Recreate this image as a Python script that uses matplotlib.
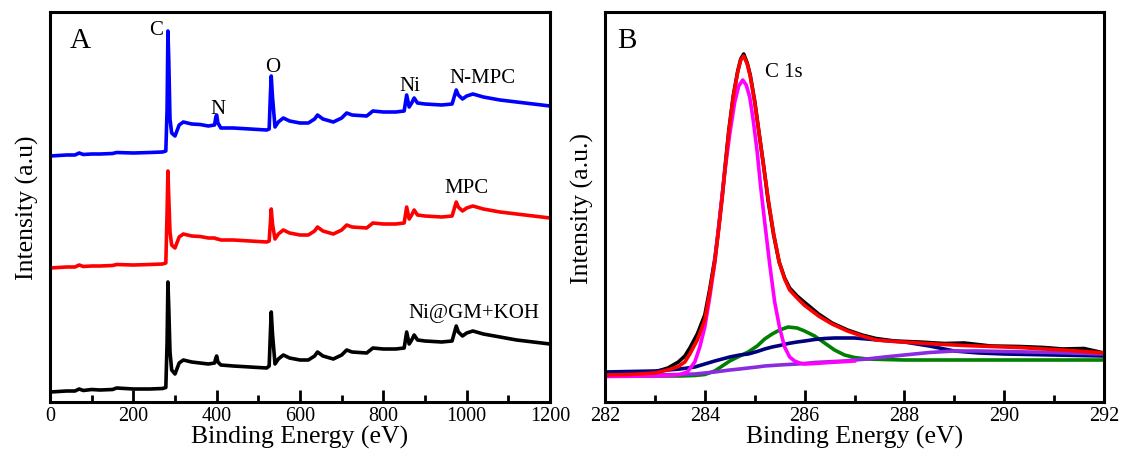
import numpy as np
import matplotlib
matplotlib.use("Agg")
import matplotlib.pyplot as plt
from matplotlib.ticker import MultipleLocator

plt.rcParams['font.family'] = ['Liberation Serif', 'DejaVu Serif']

# ---- XPS survey spectra (binding energy, intensity in a.u.) ----
E_survey = [0, 20, 40, 60, 70, 80, 100, 120, 150, 160, 200, 240, 270, 278, 281, 283, 285,
            288, 292, 300, 310, 320, 340, 360, 380, 395, 398, 400, 403, 410, 440, 480, 520,
            526, 529, 531, 534, 540, 548, 560, 575, 600, 620, 635, 642, 655, 680, 700, 712,
            725, 760, 775, 800, 830, 850, 856, 862, 868, 874, 882, 900, 940, 965, 975, 980,
            990, 1000, 1015, 1040, 1080, 1120, 1160, 1200]

nmpc = [246, 246.5, 247, 247, 249, 247.5, 248, 248, 248.5, 249.5, 249, 249.5, 250, 251, 293,
        371, 343, 283, 269, 266, 277, 280, 278, 277.5, 276, 277, 285, 287, 279, 274, 274,
        273, 272, 273, 308, 326, 305, 275, 280, 284, 281, 279, 279, 283, 287, 283, 280, 284,
        289, 287, 286, 291, 290, 290, 291, 307, 295, 299, 304, 299, 298, 297, 298, 312, 307,
        303, 306, 308, 305, 302, 300, 298, 296]

mpc = [134, 134.5, 135, 135, 137, 135.5, 136, 136, 136.5, 137.5, 137, 137.5, 138, 139, 190,
       231, 205, 170, 157, 154, 165, 168, 166, 165.5, 164, 164, 163.5, 163, 163, 162, 162,
       161, 160, 161, 180, 193, 178, 163, 168, 172, 169, 167, 167, 171, 175, 171, 168, 172,
       177, 175, 174, 179, 178, 178, 179, 195, 183, 187, 192, 187, 186, 185, 186, 200, 195,
       191, 194, 196, 193, 190, 188, 186, 184]

ni_gm_koh = [10, 10.5, 11, 11, 13, 11.5, 12.5, 12, 12.5, 14, 13, 13, 13.5, 14.5, 60, 120,
             95, 50, 32, 28, 39, 42, 40, 39, 38, 39, 44, 46, 40, 37, 36, 35, 34, 36, 70, 90,
             68, 38, 43, 47, 44, 42, 42, 46, 50, 46, 43, 47, 52, 50, 49, 54, 53, 53, 54, 70,
             58, 62, 67, 62, 61, 60, 61, 76, 70, 66, 69, 71, 68, 65, 62, 60, 58]

# ---- C 1s high resolution spectrum and fitted components ----
E_raw = [282.0, 282.5, 283.0, 283.26, 283.47, 283.6, 283.7, 283.85, 284.0, 284.1, 284.2,
         284.27, 284.35, 284.42, 284.48, 284.57, 284.66, 284.72, 284.78, 284.85, 284.91,
         285.0, 285.09, 285.18, 285.27, 285.38, 285.49, 285.6, 285.7, 285.85, 285.99,
         286.28, 286.55, 286.86, 287.15, 287.43, 287.8, 288.29, 288.8, 289.2, 289.73,
         290.3, 290.8, 291.17, 291.6, 292.0]
c1s_raw = [27, 28, 30, 34, 40, 46, 54, 68, 87, 113, 143, 171, 207, 242, 271, 306, 331, 343,
           348, 339, 327, 301, 268, 236, 201, 167, 140, 124, 114, 106, 100, 88, 79, 72, 67,
           63.5, 61, 60, 58.5, 59, 56, 55.5, 54.5, 53, 53.5, 49]
c1s_fit = [27, 27.5, 29, 32, 35.5, 40, 48, 62, 82, 110, 140, 169, 205, 240, 270, 305, 330,
           342, 346, 338, 326, 300, 268, 235, 203, 168, 140, 123, 112, 104, 97, 86, 78, 71,
           66, 62, 60.5, 59, 57.5, 56.5, 55.5, 54.5, 53, 52, 50.5, 49]

E_sp2 = [282.0, 283.0, 283.3, 283.5, 283.65, 283.8, 283.9, 284.0, 284.1, 284.2, 284.3, 284.4,
         284.5, 284.6, 284.68, 284.76, 284.83, 284.9, 284.97, 285.05, 285.12, 285.2, 285.3,
         285.4, 285.5, 285.6, 285.7, 285.8, 285.9, 286.0, 286.2, 286.5, 287.0]
c_sp2 = [25.5, 26, 26.5, 27.5, 30, 40, 55, 75, 105, 140, 185, 230, 268, 300, 316, 322, 317,
         305, 282, 250, 215, 180, 138, 100, 74, 55, 45, 41, 39, 38, 38.5, 39.5, 41]

E_comp = [282.0, 283.0, 283.5, 283.8, 284.0, 284.2, 284.35, 284.5, 284.7, 284.87, 285.05,
          285.2, 285.35, 285.5, 285.67, 285.85, 286.0, 286.2, 286.4, 286.6, 286.8, 287.0,
          287.25, 287.6, 288.0, 288.5, 289.0, 289.5, 290.0, 291.0, 292.0]
c_green = [26, 26, 26, 26.5, 27.5, 31, 36, 41, 46, 50, 56, 63, 68, 72, 75, 74, 71, 66, 59,
           52, 47, 44.5, 43, 42.5, 42, 42, 42, 42, 42, 42, 42]
c_navy = [30, 31, 33, 35, 38, 41, 43, 45, 47, 48, 50.5, 53, 55, 56.5, 58.5, 60, 61, 62.5,
          63.5, 64, 64, 64, 63, 61.5, 60, 56, 51, 49, 48, 47, 46]
c_base = [27, 27, 27.5, 28, 29, 30, 31, 32, 33, 34, 35, 36, 36.5, 37, 37.5, 38, 38.5, 39.5,
          40, 40.5, 41, 42, 43, 45, 47, 49.5, 51, 51, 50.5, 49.5, 48]

fig = plt.figure(figsize=(11.23, 4.56), dpi=100)
axA = fig.add_axes([50 / 1123, 53 / 456, 500 / 1123, 390 / 456])
axB = fig.add_axes([605 / 1123, 53 / 456, 499 / 1123, 390 / 456])

lw = 2.6
axA.plot(E_survey, ni_gm_koh, color='black', lw=lw)
axA.plot(E_survey, mpc, color='#ff0000', lw=lw)
axA.plot(E_survey, nmpc, color='#0000ff', lw=lw)

axA.set_xlim(0, 1200)
axA.set_ylim(0, 390)
axA.xaxis.set_major_locator(MultipleLocator(200))
axA.xaxis.set_minor_locator(MultipleLocator(100))

axA.text(255, 368, 'C', ha='center', va='baseline', fontsize=15)
axA.text(403, 289, 'N', ha='center', va='baseline', fontsize=15)
axA.text(534, 331, 'O', ha='center', va='baseline', fontsize=15)
axA.text(864, 312, 'Ni', ha='center', va='baseline', fontsize=15)
axA.text(1037, 320, 'N-MPC', ha='center', va='baseline', fontsize=15)
axA.text(1000, 210, 'MPC', ha='center', va='baseline', fontsize=15)
axA.text(1018, 85, 'Ni@GM+KOH', ha='center', va='baseline', fontsize=15)
axA.text(0.04, 0.91, 'A', transform=axA.transAxes, fontsize=21, va='baseline')
axA.set_ylabel('Intensity (a.u)', fontsize=18.5, labelpad=8)

axB.plot(E_raw, c1s_raw, color='black', lw=lw)
axB.plot(E_comp, c_green, color='#008000', lw=lw)
axB.plot(E_comp, c_navy, color='#00007f', lw=lw)
axB.plot(E_comp, c_base, color='#8a2be2', lw=lw)
axB.plot(E_sp2, c_sp2, color='#ff00ff', lw=lw)
axB.plot(E_raw, c1s_fit, color='#ff0000', lw=lw)

axB.set_xlim(282, 292)
axB.set_ylim(0, 390)
axB.xaxis.set_major_locator(MultipleLocator(2))
axB.xaxis.set_minor_locator(MultipleLocator(1))
axB.text(285.2, 326, 'C 1s', fontsize=15, va='baseline')
axB.text(0.024, 0.91, 'B', transform=axB.transAxes, fontsize=21, va='baseline')
axB.set_ylabel('Intensity (a.u.)', fontsize=18.5, labelpad=8)

for ax in (axA, axB):
    for sp in ax.spines.values():
        sp.set_linewidth(2.2)
    ax.set_yticks([])
    ax.tick_params(axis='x', which='major', direction='in', length=9, width=2,
                   labelsize=14.5, pad=3, top=False)
    ax.tick_params(axis='x', which='minor', direction='in', length=5, width=2, top=False)
    ax.set_xlabel('Binding Energy (eV)', fontsize=18.5, labelpad=0)

fig.savefig('out.png', dpi=100)
